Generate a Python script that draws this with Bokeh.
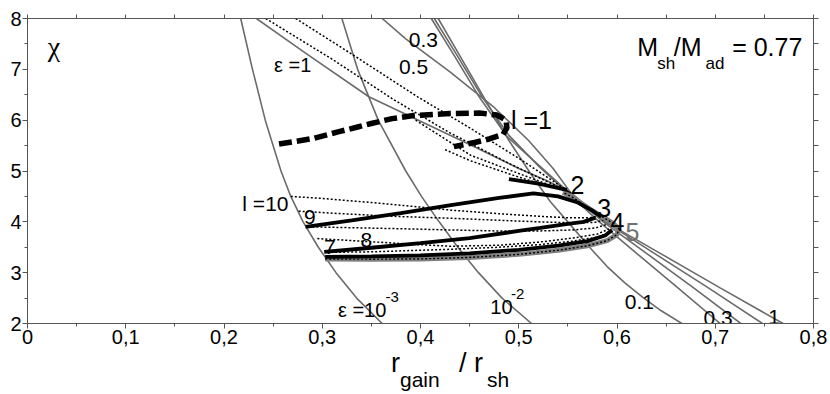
from bokeh.plotting import figure
from bokeh.models import Range1d, LinearAxis, FixedTicker, CustomJSTickFormatter, Div
from bokeh.layouts import column
from bokeh.core.properties import value
from bokeh.embed import file_html
from bokeh.resources import INLINE

# ---------------- data ----------------
# epsilon contours (grey)
eps_1e3_x = [0.217, 0.229, 0.242, 0.258, 0.268, 0.2805, 0.296, 0.314, 0.335, 0.361]
eps_1e3_y = [8.0, 7.0, 6.0, 5.0, 4.5, 4.0, 3.5, 3.0, 2.5, 2.0]
eps_1e2_x = [0.320, 0.336, 0.357, 0.385, 0.401, 0.419, 0.438, 0.459, 0.483, 0.513]
eps_1e2_y = [8.0, 7.0, 6.0, 5.0, 4.5, 4.0, 3.5, 3.0, 2.5, 2.0]
eps_01_x = [0.418, 0.442, 0.466, 0.490, 0.512, 0.532, 0.553, 0.573, 0.590, 0.608, 0.626, 0.645, 0.666]
eps_01_y = [8.0, 7.2, 6.4, 5.6, 4.95, 4.40, 3.93, 3.48, 3.12, 2.80, 2.52, 2.25, 2.0]
eps_02_x = [0.414, 0.438, 0.463, 0.490, 0.520, 0.551, 0.582, 0.620, 0.662, 0.705]
eps_02_y = [8.0, 7.25, 6.45, 5.70, 5.10, 4.55, 4.00, 3.38, 2.70, 2.0]
eps_03_x = [0.411, 0.435, 0.460, 0.488, 0.520, 0.552, 0.586, 0.630, 0.678, 0.726]
eps_03_y = [8.0, 7.25, 6.45, 5.68, 5.12, 4.56, 4.00, 3.38, 2.70, 2.0]
eps_05_x = [0.361, 0.385, 0.430, 0.475, 0.510, 0.535, 0.553, 0.588, 0.638, 0.693, 0.748]
eps_05_y = [8.0, 7.6, 6.95, 6.25, 5.60, 5.05, 4.57, 4.00, 3.38, 2.70, 2.0]
eps_1_x = [0.233, 0.283, 0.3475, 0.400, 0.450, 0.500, 0.530, 0.553, 0.590, 0.644, 0.705, 0.769]
eps_1_y = [8.0, 7.32, 6.46, 5.98, 5.52, 5.05, 4.80, 4.57, 3.98, 3.38, 2.70, 2.0]

# dotted fan converging near the l=2 point
fan1_x = [0.2425, 0.310, 0.373, 0.430, 0.490, 0.553]
fan1_y = [8.0, 7.2, 6.4, 5.75, 5.15, 4.57]
fan2_x = [0.273, 0.330, 0.397, 0.450, 0.500, 0.553]
fan2_y = [8.0, 7.3, 6.46, 5.85, 5.25, 4.57]
fan3_x = [0.395, 0.451, 0.500, 0.553]
fan3_y = [6.0, 5.31, 4.95, 4.57]
fan4_x = [0.425, 0.451, 0.500, 0.553]
fan4_y = [5.42, 5.20, 4.88, 4.57]

# dotted curves l = 6 ... 10
l10_x = [0.268, 0.300, 0.350, 0.400, 0.431, 0.480, 0.520, 0.550, 0.572, 0.584]
l10_y = [4.50, 4.46, 4.38, 4.29, 4.23, 4.16, 4.11, 4.08, 4.08, 4.12]
l9_x = [0.276, 0.320, 0.370, 0.431, 0.480, 0.520, 0.555, 0.578, 0.588]
l9_y = [4.21, 4.16, 4.11, 4.07, 4.03, 4.00, 3.98, 3.99, 4.04]
l8_x = [0.290, 0.340, 0.390, 0.431, 0.480, 0.520, 0.555, 0.578, 0.590]
l8_y = [3.90, 3.88, 3.86, 3.84, 3.82, 3.82, 3.84, 3.88, 3.95]
l7_x = [0.295, 0.340, 0.390, 0.431, 0.480, 0.520, 0.555, 0.580, 0.592]
l7_y = [3.67, 3.62, 3.56, 3.52, 3.54, 3.60, 3.68, 3.76, 3.86]
l6_x = [0.305, 0.350, 0.431, 0.480, 0.520, 0.555, 0.580, 0.594]
l6_y = [3.40, 3.41, 3.46, 3.50, 3.55, 3.62, 3.70, 3.80]

# solid curves
l2_x = [0.490, 0.520, 0.549]
l2_y = [4.84, 4.75, 4.63]
la_x = [0.283, 0.330, 0.380, 0.431, 0.480, 0.515, 0.540, 0.560, 0.575, 0.584]
la_y = [3.90, 4.03, 4.17, 4.33, 4.47, 4.56, 4.50, 4.38, 4.22, 4.10]
lc_x = [0.302, 0.350, 0.400, 0.450, 0.500, 0.522, 0.550, 0.566, 0.578]
lc_y = [3.41, 3.49, 3.58, 3.68, 3.82, 3.88, 3.96, 4.00, 4.08]
ld_x = [0.303, 0.350, 0.400, 0.450, 0.500, 0.540, 0.570, 0.588, 0.595]
ld_y = [3.31, 3.32, 3.34, 3.38, 3.45, 3.53, 3.62, 3.73, 3.84]
l5_x = [0.303, 0.350, 0.400, 0.450, 0.500, 0.540, 0.570, 0.590, 0.600, 0.602, 0.596, 0.585, 0.570, 0.555, 0.545]
l5_y = [3.27, 3.265, 3.27, 3.30, 3.36, 3.44, 3.53, 3.63, 3.75, 3.86, 3.97, 4.10, 4.28, 4.48, 4.58]

# dashed l = 1
l1_x = [0.256, 0.291, 0.316, 0.335, 0.351, 0.371, 0.393, 0.430, 0.460, 0.478, 0.487, 0.488, 0.484, 0.470, 0.455, 0.434]
l1_y = [5.53, 5.64, 5.77, 5.86, 5.94, 6.03, 6.09, 6.13, 6.14, 6.10, 6.00, 5.85, 5.72, 5.63, 5.56, 5.48]

# axes
x_ticks = [0, 0.1, 0.2, 0.3, 0.4, 0.5, 0.6, 0.7, 0.8]
x_minor = [0.05, 0.15, 0.25, 0.35, 0.45, 0.55, 0.65, 0.75]
y_ticks = [2, 3, 4, 5, 6, 7, 8]
y_minor = [2.5, 3.5, 4.5, 5.5, 6.5, 7.5]
top_ticks = [0, 0.05, 0.1, 0.15, 0.2, 0.25, 0.3, 0.35, 0.4, 0.45, 0.5, 0.55, 0.6, 0.65, 0.7, 0.75, 0.8]
right_ticks = [2, 2.5, 3, 3.5, 4, 4.5, 5, 5.5, 6, 6.5, 7, 7.5, 8]

# labels
big_txt = ["0.3", "0.5", "0.1", "0.3", "1"]
big_x = [0.388, 0.378, 0.608, 0.688, 0.754]
big_y = [7.577, 7.045, 2.42, 2.10, 2.13]
eps_txt = ["\u03b5 =1", "\u03b5 =10", "10"]
eps_x = [0.251, 0.316, 0.471]
eps_y = [7.085, 2.26, 2.32]
sup_txt = ["-3", "-2"]
sup_x = [0.3645, 0.492]
sup_y = [2.52, 2.58]
ln_txt = ["l =1", "2", "3", "4"]
ln_x = [0.492, 0.5527, 0.580, 0.5935]
ln_y = [6.0, 4.72, 4.264, 4.0]
lsm_txt = ["l =10", "9", "8", "7"]
lsm_x = [0.2187, 0.2814, 0.339, 0.3017]
lsm_y = [4.36, 4.10, 3.64, 3.51]

GREY = "#6b6b6b"
FONT = "Liberation Sans"

p = figure(width=830, height=350, output_backend="svg", toolbar_location=None,
           x_range=Range1d(0, 0.8), y_range=Range1d(2, 8),
           min_border_left=27, min_border_right=17, min_border_top=18, min_border_bottom=27)
p.grid.visible = False
p.outline_line_color = "#555555"

AX = "#555555"
xa = p.xaxis[0]
xa.ticker = FixedTicker(ticks=x_ticks, minor_ticks=x_minor)
xa.formatter = CustomJSTickFormatter(code="return tick == 0 ? '0' : tick.toFixed(1).replace('.', ',');")
ya = p.yaxis[0]
ya.ticker = FixedTicker(ticks=y_ticks, minor_ticks=y_minor)
for ax in (xa, ya):
    ax.major_label_text_font = FONT
    ax.major_label_text_font_size = "20px"
    ax.major_label_text_color = "black"
    ax.major_label_standoff = 1
    ax.major_tick_in = 0
    ax.major_tick_out = 5
    ax.minor_tick_in = 0
    ax.minor_tick_out = 3
    ax.axis_line_color = AX
    ax.major_tick_line_color = AX
    ax.minor_tick_line_color = AX

top = LinearAxis(ticker=FixedTicker(ticks=top_ticks, minor_ticks=[]),
                 formatter=CustomJSTickFormatter(code="return '';"),
                 major_label_standoff=0, major_tick_in=0, major_tick_out=4,
                 minor_tick_out=0, axis_line_color=AX, major_tick_line_color=AX)
right = LinearAxis(ticker=FixedTicker(ticks=right_ticks, minor_ticks=[]),
                   formatter=CustomJSTickFormatter(code="return '';"),
                   major_label_standoff=0, major_tick_in=0, major_tick_out=5,
                   minor_tick_out=0, axis_line_color=AX, major_tick_line_color=AX)
p.add_layout(top, "above")
p.add_layout(right, "right")

# grey epsilon curves
for xs, ys in [(eps_1e3_x, eps_1e3_y), (eps_1e2_x, eps_1e2_y), (eps_01_x, eps_01_y),
               (eps_02_x, eps_02_y), (eps_03_x, eps_03_y), (eps_05_x, eps_05_y), (eps_1_x, eps_1_y)]:
    p.line(xs, ys, line_color=GREY, line_width=1.6)

# dotted curves
for xs, ys in [(fan1_x, fan1_y), (fan2_x, fan2_y), (fan3_x, fan3_y), (fan4_x, fan4_y),
               (l10_x, l10_y), (l9_x, l9_y), (l8_x, l8_y), (l7_x, l7_y), (l6_x, l6_y)]:
    p.line(xs, ys, line_color="black", line_width=1.5, line_dash="2 2")

# l = 5 grey thick band
p.line(l5_x, l5_y, line_color="#808080", line_width=5)
# black solid curves
for xs, ys in [(l2_x, l2_y), (la_x, la_y), (lc_x, lc_y), (ld_x, ld_y)]:
    p.line(xs, ys, line_color="black", line_width=3.8)
p.line(l5_x, l5_y, line_color="black", line_width=1.4, line_dash="2 2")

# dashed l = 1
p.line(l1_x, l1_y, line_color="black", line_width=5.5, line_dash="13 5")

def txt(xs, ys, t, size, color="black", font=FONT):
    p.text(x=xs, y=ys, text=t, text_font=value(font), text_font_size=value(size),
           text_color=color, text_align="left", text_baseline="alphabetic")

txt(big_x, big_y, big_txt, "21px")
txt(eps_x, eps_y, eps_txt, "20px")
txt(sup_x, sup_y, sup_txt, "15px")
txt(ln_x, ln_y, ln_txt, "25px")
txt([0.6086], [3.80], ["5"], "25px", color="#707070")
txt(lsm_x, lsm_y, lsm_txt, "21px")
txt([0.0207], [7.44], ["\u03c7"], "28px", font="Liberation Serif")
txt([0.6205, 0.6578, 0.7172], [7.445, 7.445, 7.445], ["M", "/M", "= 0.77"], "25px")
txt([0.641, 0.690], [7.123, 7.123], ["sh", "ad"], "17px")

# x axis label r_gain / r_sh (HTML below the figure)
xlabel_html = (
    '<div style="position:relative;width:830px;height:44px;font-family:\'Liberation Sans\';'
    'color:black;line-height:0.7;white-space:nowrap;">'
    '<span style="position:absolute;left:391px;top:4px;font-size:27px;">r</span>'
    '<span style="position:absolute;left:400px;top:23.4px;font-size:21px;">gain</span>'
    '<span style="position:absolute;left:459px;top:4px;font-size:27px;">/ r</span>'
    '<span style="position:absolute;left:487px;top:23.4px;font-size:21px;">sh</span>'
    '</div>'
)
xlabel = Div(text=xlabel_html, width=830, height=44, margin=0)

layout = column(p, xlabel, spacing=0)
open("out.html", "w").write(file_html(layout, INLINE))
